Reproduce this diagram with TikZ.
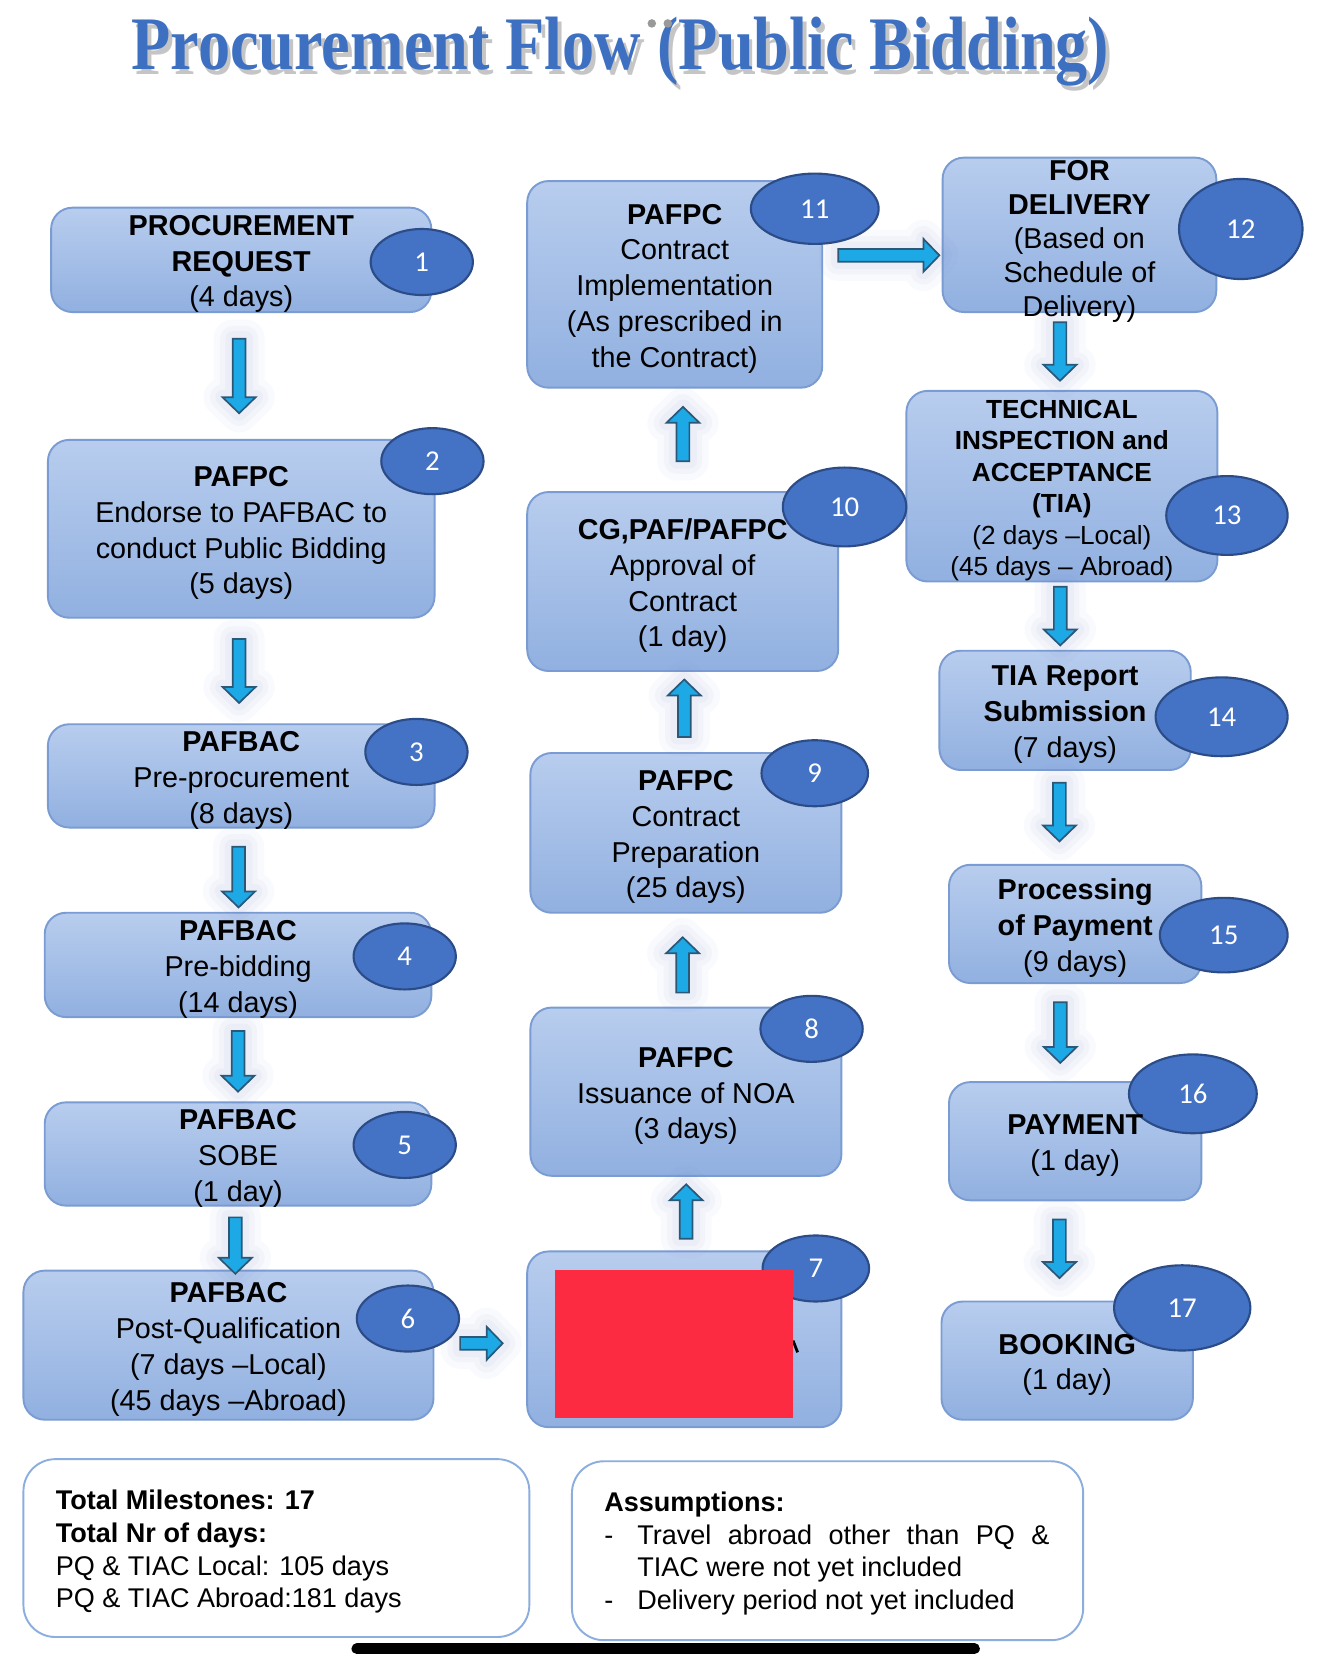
\documentclass[tikz,border=0pt]{standalone}
\usepackage{graphicx}
\usepackage{fontspec}
\setmainfont{Liberation Sans}
\newfontfamily\numfont{Carlito}
\newfontfamily\titlefont{Liberation Serif}
\usetikzlibrary{shapes.geometric,fit,calc}
\definecolor{boxtop}{RGB}{184,205,238}
\definecolor{boxbot}{RGB}{145,176,224}
\definecolor{boxline}{RGB}{122,156,210}
\definecolor{circfill}{RGB}{68,114,196}
\definecolor{circline}{RGB}{44,76,136}
\definecolor{arrfill}{RGB}{29,168,230}
\definecolor{arrline}{RGB}{44,88,120}
\definecolor{glow}{RGB}{110,130,205}
\definecolor{titleblue}{RGB}{62,112,193}
\definecolor{noteline}{RGB}{140,174,222}
\definecolor{redact}{RGB}{252,43,66}
\newcommand\numbadge[6]{\node[badge, minimum width=#4pt, minimum height=#5pt] (#1) at (#2,#3) {#6};}
\begin{document}
\begin{tikzpicture}[x=0.5pt,y=-0.5pt,
  box/.style={draw=boxline, line width=0.9pt, rounded corners=10pt, top color=boxtop, bottom color=boxbot, inner sep=0pt},
  notebox/.style={draw=noteline, line width=0.9pt, rounded corners=15pt, fill=white, inner sep=0pt},
  badge/.style={ellipse, draw=circline, fill=circfill, line width=1pt, inner sep=0pt, text=white, font=\numfont\fontsize{13.5}{16}\selectfont},
  txt/.style={align=center, inner sep=0pt, text=black, yshift=-2pt, font=\fontsize{13.5}{16.8}\selectfont},
  smalltxt/.style={align=center, inner sep=0pt, text=black, yshift=-2pt, font=\fontsize{12.3}{14.8}\selectfont},
  note/.style={anchor=base west, inner sep=0pt, text=black, font=\fontsize{12.7}{15.5}\selectfont},
  arrowbody/.style={fill=arrfill, draw=arrline, line width=0.8pt, line join=miter},
  pics/barrow/.style={code={
    \foreach \w/\o in {18/0.035,12/0.045,7/0.055}{
      \draw[draw=glow, draw opacity=\o, line width=\w pt, line join=round]
        ({-#1/2},-6) -- ({#1/2-15},-6) -- ({#1/2-15},-15.5) -- ({#1/2},0)
        -- ({#1/2-15},15.5) -- ({#1/2-15},6) -- ({-#1/2},6) -- cycle;}
    \draw[arrowbody] ({-#1/2},-6) -- ({#1/2-15},-6) -- ({#1/2-15},-15.5) -- ({#1/2},0)
      -- ({#1/2-15},15.5) -- ({#1/2-15},6) -- ({-#1/2},6) -- cycle;}}
]
\useasboundingbox (0,0) rectangle (1253,1568);
\fill[white] (0,0) rectangle (1253,1568);

% title
\node[anchor=base, text=black!45, opacity=0.5, inner sep=0pt] (titleshadow) at (586,70)
  {\titlefont\bfseries\fontsize{35.5}{40}\selectfont\scalebox{0.85}[1]{Procurement Flow (Public Bidding)}};
\node[anchor=base, text=titleblue, inner sep=0pt] (title) at (582.5,65)
  {\titlefont\bfseries\fontsize{35.5}{40}\selectfont\scalebox{0.85}[1]{Procurement Flow (Public Bidding)}};
\fill[black!40] (612,22) circle (4) (627,22) circle (4);

% boxes
\node[box, fit={(48,195) (405,293)}] (b1) {};
\node[box, fit={(45,413) (408,580)}] (b2) {};
\node[box, fit={(45,680) (408,777)}] (b3) {};
\node[box, fit={(42,857) (405,955)}] (b4) {};
\node[box, fit={(42,1035) (405,1132)}] (b5) {};
\node[box, fit={(22,1193) (407,1333)}] (b6) {};
\node[box, fit={(495,1175) (790,1340)}] (b7) {};
\node[box, fit={(498,946) (790,1104)}] (b8) {};
\node[box, fit={(498,707) (790,857)}] (b9) {};
\node[box, fit={(495,462) (787,630)}] (b10) {};
\node[box, fit={(495,170) (772,364)}] (b11) {};
\node[box, fit={(885,148) (1142,293)}] (b12) {};
\node[box, fit={(851,367) (1143,546)}] (b13) {};
\node[box, fit={(882,611) (1118,723)}] (b14) {};
\node[box, fit={(891,812) (1128,923)}] (b15) {};
\node[box, fit={(891,1016) (1128,1127)}] (b16) {};
\node[box, fit={(884,1222) (1120,1333)}] (b17) {};

% arrows
\pic[rotate=-90] at ($(b1.south)!.5!(b2.north)+(-2,0)$) {barrow=70};
\pic[rotate=-90] at ($(b2.south)!.5!(b3.north)+(-2,0)$) {barrow=60};
\pic[rotate=-90] at ($(b3.south)!.5!(b4.north)+(-1,6.5)$) {barrow=57};
\pic[rotate=-90] at ($(b4.south)!.5!(b5.north)+(0,1.5)$) {barrow=57};
\pic[rotate=-90] at ($(b5.south)!.5!(b6.north)+(2,7)$) {barrow=53};
\pic at ($(b6.east)!.5!(b7.west)+(1,1)$) {barrow=40};
\pic[rotate=90] at ($(b7.north)!.5!(b8.south)+(1,-2)$) {barrow=51};
\pic[rotate=90] at ($(b8.north)!.5!(b9.south)+(-3,4.5)$) {barrow=52};
\pic[rotate=90] at ($(b9.north)!.5!(b10.south)+(0,-3.5)$) {barrow=54};
\pic[rotate=90] at ($(b10.north)!.5!(b11.south)+(4,-5.5)$) {barrow=51};
\pic at ($(b11.east)!.5!(b12.west)+(6,-4)$) {barrow=95};
\pic[rotate=-90] at ($(b12.south)!.5!(b13.north)+(-10,0)$) {barrow=55};
\pic[rotate=-90] at ($(b13.south)!.5!(b14.north)+(-3,0)$) {barrow=55};
\pic[rotate=-90] at ($(b14.south)!.5!(b15.north)+(-10,-5)$) {barrow=55};
\pic[rotate=-90] at ($(b15.south)!.5!(b16.north)+(-14,0)$) {barrow=57};
\pic[rotate=-90] at ($(b16.south)!.5!(b17.north)+(-11,-2)$) {barrow=55};

% number badges
\numbadge{c1}{396}{246}{48}{31}{1}
\numbadge{c2}{406}{433}{48}{31}{2}
\numbadge{c3}{391}{706}{48}{31}{3}
\numbadge{c4}{380}{898}{48}{31}{4}
\numbadge{c5}{380}{1075}{48}{31}{5}
\numbadge{c6}{383}{1238}{48}{31}{6}
\numbadge{c7}{766}{1191}{50}{31}{7}
\numbadge{c8}{762}{966}{48}{31}{8}
\numbadge{c9}{765}{726}{50}{31}{9}
\numbadge{c10}{793}{476}{58}{37}{10}
\numbadge{c11}{765}{196}{60}{33}{11}
\numbadge{c12}{1165}{215}{58}{47}{12}
\numbadge{c13}{1152}{484}{57}{37}{13}
\numbadge{c14}{1147}{673}{62}{37}{14}
\numbadge{c15}{1149}{878}{60}{35}{15}
\numbadge{c16}{1120}{1027}{60}{37}{16}
\numbadge{c17}{1110}{1228}{64}{40}{17}

% box texts
\node[txt] (t1) at (b1) {\textbf{PROCUREMENT}\\\textbf{REQUEST}\\(4 days)};
\node[txt] (t2) at (b2) {\textbf{PAFPC}\\Endorse to PAFBAC to\\conduct Public Bidding\\(5 days)};
\node[txt] (t3) at (b3) {\textbf{PAFBAC}\\Pre-procurement\\(8 days)};
\node[txt] (t4) at (b4) {\textbf{PAFBAC}\\Pre-bidding\\(14 days)};
\node[txt] (t5) at (b5) {\textbf{PAFBAC}\\SOBE\\(1 day)};
\node[txt] (t6) at (b6) {\textbf{PAFBAC}\\Post-Qualification\\(7 days –Local)\\(45 days –Abroad)};
\node[txt] (t8) at (b8) {\textbf{PAFPC}\\Issuance of NOA\\(3 days)};
\node[txt] (t9) at (b9) {\textbf{PAFPC}\\Contract\\Preparation\\(25 days)};
\node[txt] (t10) at (b10) {\textbf{CG,PAF/PAFPC}\\Approval of\\Contract\\(1 day)};
\node[txt] (t11) at (b11) {\textbf{PAFPC}\\Contract\\Implementation\\(As prescribed in\\the Contract)};
\node[txt, font=\fontsize{13.5}{16}\selectfont] (t12) at ($(b12)+(0,2)$) {\textbf{FOR}\\\textbf{DELIVERY}\\(Based on\\Schedule of\\Delivery)};
\node[smalltxt] (t13) at (b13) {\textbf{TECHNICAL}\\\textbf{INSPECTION and}\\\textbf{ACCEPTANCE}\\\textbf{(TIA)}\\(2 days –Local)\\(45 days – Abroad)};
\node[txt] (t14) at (b14) {\textbf{TIA Report}\\\textbf{Submission}\\(7 days)};
\node[txt] (t15) at (b15) {\textbf{Processing}\\\textbf{of Payment}\\(9 days)};
\node[txt] (t16) at (b16) {\textbf{PAYMENT}\\(1 day)};
\node[txt] (t17) at (b17) {\textbf{BOOKING}\\(1 day)};

% redaction on box 7
\draw[line width=1.3pt] (744.6,1258.7) -- (748.9,1269.7);
\fill[redact] (521,1192) rectangle (745,1331);

% notes
\node[notebox, fit={(22,1370) (497,1537)}] (n1) {};
\node[notebox, fit={(537,1372) (1017,1540)}] (n2) {};
\node[note] (l1) at (52,1417) {\textbf{Total Milestones: 17}};
\node[note] (l2) at (52,1448) {\textbf{Total Nr of days:}};
\node[note] (l3) at (52,1479) {PQ \& TIAC Local: 105 days};
\node[note] (l4) at (52,1509) {PQ \& TIAC Abroad:181 days};
\node[note] (r1) at (567,1419) {\textbf{Assumptions:}};
\node[note] (r2) at (567,1450) {-};
\node[note] (r3) at (598,1450) {\makebox[193.5pt][s]{Travel abroad other than PQ \&}};
\node[note] (r4) at (598,1480) {TIAC were not yet included};
\node[note] (r5) at (567,1511) {-};
\node[note] (r6) at (598,1511) {Delivery period not yet included};

% bottom bar
\draw[line width=5pt, line cap=round] (335,1548) -- (915,1548);
\end{tikzpicture}
\end{document}
